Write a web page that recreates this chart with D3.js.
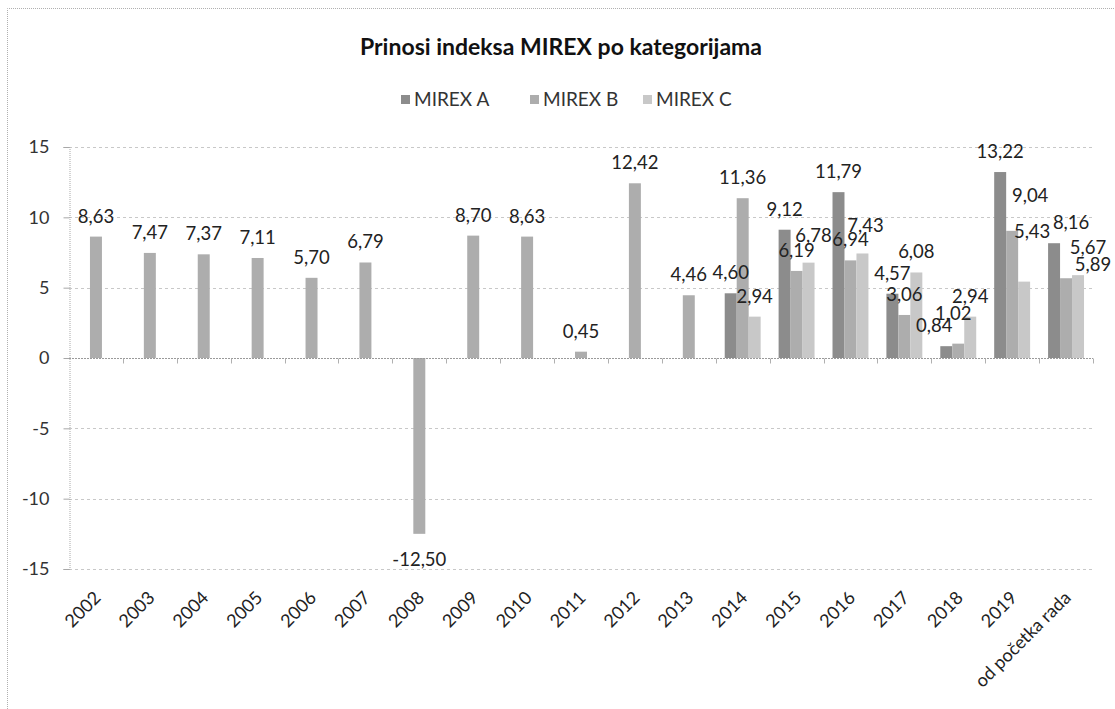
<!DOCTYPE html>
<html>
<head>
<meta charset="utf-8">
<script src="https://cdn.jsdelivr.net/npm/d3@7"></script>
<style>
  body { margin: 0; background: #fff; }
  text { font-family: Lato, "Open Sans", sans-serif; }
</style>
</head>
<body>
<svg id="chart" width="1115" height="709"></svg>
<script>
// values (null = no bar)
var categories = ['2002', '2003', '2004', '2005', '2006', '2007', '2008', '2009', '2010',
  '2011', '2012', '2013', '2014', '2015', '2016', '2017', '2018', '2019', 'od početka rada'];
var mirexA = [null, null, null, null, null, null, null, null, null, null, null, null,
  4.60, 9.12, 11.79, 4.57, 0.84, 13.22, 8.16];
var mirexB = [8.63, 7.47, 7.37, 7.11, 5.70, 6.79, -12.50, 8.70, 8.63, 0.45, 12.42, 4.46,
  11.36, 6.19, 6.94, 3.06, 1.02, 9.04, 5.67];
var mirexC = [null, null, null, null, null, null, null, null, null, null, null, null,
  2.94, 6.78, 7.43, 6.08, 2.94, 5.43, 5.89];
var seriesNames = ['MIREX A', 'MIREX B', 'MIREX C'];
var yTicks = [-15, -10, -5, 0, 5, 10, 15];

var series = [
  {name: seriesNames[0], values: mirexA, color: '#8c8c8c'},
  {name: seriesNames[1], values: mirexB, color: '#adadad'},
  {name: seriesNames[2], values: mirexC, color: '#c8c8c8'}
];

// a few labels were dragged by hand in the original
var labelNudge = {
  'MIREX A|2018': [-12, 0],
  'MIREX B|2018': [-5, -10],
  'MIREX B|2019': [18, -15],
  'MIREX C|2019': [8, -30],
  'MIREX A|od početka rada': [17, 0],
  'MIREX B|od početka rada': [22, -10],
  'MIREX C|od početka rada': [15, 10],
  'MIREX C|2015': [5, -7],
  'MIREX C|2016': [3, -7]
};

var svg = d3.select('#chart');
var plot = {left: 69, right: 1093, top: 147, bottom: 569};

var locale = d3.formatLocale({decimal: ',', thousands: '.', grouping: [3], currency: ['', ''], minus: '-'});
var fmt = locale.format('.2f');
var fmtTick = locale.format('d');

var x0 = d3.scaleBand()
  .domain(categories)
  .range([plot.left, plot.right])
  .padding(0);

// gap width 150% -> outer padding of 0.75 bar on each side
var x1 = d3.scaleBand()
  .domain(seriesNames)
  .range([0, x0.bandwidth()])
  .paddingInner(0)
  .paddingOuter(0.75);

var y = d3.scaleLinear()
  .domain([-15, 15])
  .range([plot.bottom, plot.top]);

// chart frame (dotted, top and left visible in the scan)
svg.append('path')
  .attr('d', 'M7.5,709 L7.5,8.5 L1115,8.5')
  .attr('fill', 'none')
  .attr('stroke', '#b0b0b0')
  .attr('stroke-dasharray', '1,1');

// title
svg.append('text')
  .attr('x', 561)
  .attr('y', 55)
  .attr('text-anchor', 'middle')
  .style('font-size', '23px')
  .style('font-weight', 'bold')
  .style('fill', '#111')
  .text('Prinosi indeksa MIREX po kategorijama');

// legend
var legendX = [401, 530, 643];
var legend = svg.append('g').attr('class', 'legend');
series.forEach(function(s, i){
  legend.append('rect')
    .attr('x', legendX[i])
    .attr('y', 95)
    .attr('width', 9)
    .attr('height', 9)
    .attr('fill', s.color);
  legend.append('text')
    .attr('x', legendX[i] + 13)
    .attr('y', 106)
    .style('font-size', '19px')
    .style('fill', '#333')
    .text(s.name);
});

// gridlines
svg.append('g')
  .selectAll('line')
  .data(yTicks.filter(function(d){ return d !== 0; }))
  .enter()
  .append('line')
  .attr('x1', plot.left)
  .attr('x2', plot.right)
  .attr('y1', function(d){ return Math.round(y(d)) + 0.5; })
  .attr('y2', function(d){ return Math.round(y(d)) + 0.5; })
  .attr('stroke', '#c8c8c8')
  .attr('stroke-dasharray', '3,3');

// y axis
var yAxis = svg.append('g')
  .attr('transform', 'translate(' + (plot.left + 0.5) + ',0)')
  .call(d3.axisLeft(y).tickValues(yTicks).tickFormat(fmtTick).tickSize(6).tickPadding(14));
yAxis.select('.domain').attr('stroke', '#a8a8a8').attr('stroke-dasharray', '1,1');
yAxis.selectAll('.tick line').attr('stroke', '#a8a8a8');
yAxis.selectAll('.tick text')
  .style('font-size', '18px')
  .style('font-family', 'Lato, "Open Sans", sans-serif')
  .style('fill', '#333');

// bars
var groups = svg.append('g')
  .selectAll('g')
  .data(series)
  .enter()
  .append('g')
  .attr('fill', function(s){ return s.color; });

groups.selectAll('rect')
  .data(function(s){
    return s.values.map(function(v, i){ return {name: s.name, cat: categories[i], value: v}; })
      .filter(function(d){ return d.value !== null; });
  })
  .enter()
  .append('rect')
  .attr('x', function(d){ return x0(d.cat) + x1(d.name); })
  .attr('width', x1.bandwidth())
  .attr('y', function(d){ return y(Math.max(0, d.value)); })
  .attr('height', function(d){ return Math.abs(y(d.value) - y(0)); });

// x axis on zero line, ticks between categories
var zeroY = Math.round(y(0)) + 0.5;
svg.append('line')
  .attr('x1', plot.left)
  .attr('x2', plot.right)
  .attr('y1', zeroY)
  .attr('y2', zeroY)
  .attr('stroke', '#9a9a9a')
  .attr('stroke-dasharray', '2,1');

svg.append('g')
  .selectAll('line')
  .data(categories)
  .enter()
  .append('line')
  .attr('x1', function(d){ return Math.round(x0(d) + x0.bandwidth()) + 0.5; })
  .attr('x2', function(d){ return Math.round(x0(d) + x0.bandwidth()) + 0.5; })
  .attr('y1', zeroY)
  .attr('y2', zeroY + 5)
  .attr('stroke', '#b0b0b0');

// category labels at the bottom, rotated
svg.append('g')
  .selectAll('text')
  .data(categories)
  .enter()
  .append('text')
  .attr('text-anchor', 'end')
  .attr('dominant-baseline', 'central')
  .attr('transform', function(d){
    return 'translate(' + (x0(d) + x0.bandwidth() / 2 + 1) + ',594) rotate(-45)';
  })
  .style('font-size', '18px')
  .style('fill', '#222')
  .text(function(d){ return d; });

// data labels
var labels = svg.append('g');
series.forEach(function(s){
  s.values.forEach(function(v, i){
    if (v === null) return;
    var cat = categories[i];
    var nudge = labelNudge[s.name + '|' + cat] || [0, 0];
    var cx = x0(cat) + x1(s.name) + x1.bandwidth() / 2;
    var ty = v >= 0 ? y(v) - 14 : y(v) + 32;
    labels.append('text')
      .attr('x', cx + nudge[0])
      .attr('y', ty + nudge[1])
      .attr('text-anchor', 'middle')
      .style('font-size', '18.5px')
      .style('fill', '#222')
      .text(fmt(v));
  });
});
</script>
</body>
</html>
